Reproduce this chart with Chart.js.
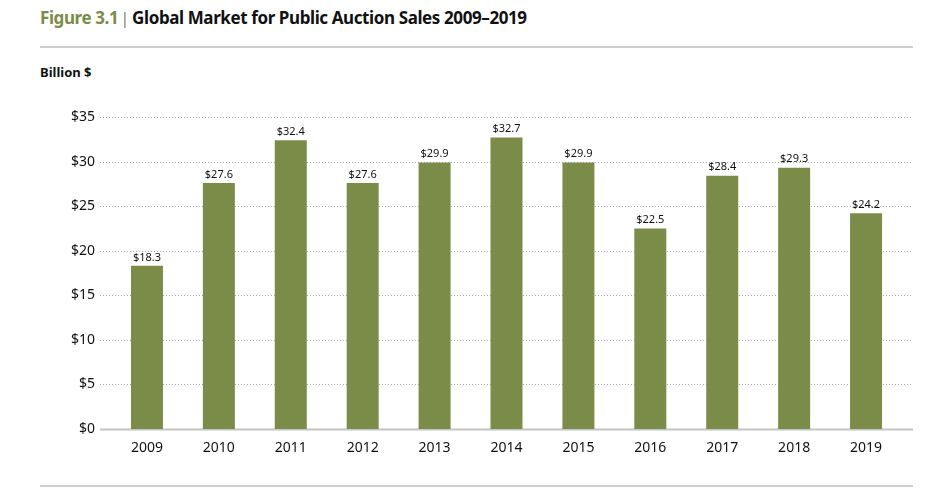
<!DOCTYPE html>
<html><head><meta charset="utf-8">
<script src="https://cdn.jsdelivr.net/npm/chart.js@4"></script>
<style>
html,body{margin:0;padding:0;background:#fff;}
#wrap{position:relative;width:934px;height:502px;font-family:"Noto Sans",sans-serif;}
#title{position:absolute;left:40px;top:6px;font-size:17px;font-weight:700;color:#111;white-space:nowrap;letter-spacing:-0.4px;}
#title .fig{color:#7b8c48;}
#title .bar{color:#444;font-weight:300;margin:0 3px 0 2px;}
#rule1{position:absolute;left:40px;top:46px;width:873px;height:2px;background:#cfcfcf;}
#rule2{position:absolute;left:40px;top:485px;width:873px;height:2px;background:#cfcfcf;}
#unit{position:absolute;left:40px;top:63px;font-size:13px;font-weight:700;color:#111;}
canvas{position:absolute;left:0;top:0;}
</style></head>
<body><div id="wrap">
<div id="title"><span class="fig">Figure 3.1</span><span class="bar">|</span>Global Market for Public Auction Sales 2009–2019</div>
<div id="rule1"></div>
<div id="unit">Billion $</div>
<canvas id="c" width="934" height="502"></canvas>
<div id="rule2"></div>
</div>
<script>
const years = ["2009","2010","2011","2012","2013","2014","2015","2016","2017","2018","2019"];
const sales = [18.3, 27.6, 32.4, 27.6, 29.9, 32.7, 29.9, 22.5, 28.4, 29.3, 24.2];
const yTicks = [0, 5, 10, 15, 20, 25, 30, 35];

const gridPlugin = {
  id: 'gridExt',
  beforeDatasetsDraw(chart) {
    const ctx = chart.ctx, y = chart.scales.y;
    ctx.save();
    yTicks.forEach(v => {
      const py = Math.round(y.getPixelForValue(v)) + 0.5;
      ctx.beginPath();
      if (v === 0) {
        ctx.setLineDash([]); ctx.strokeStyle = '#c4c4c4'; ctx.lineWidth = 2;
      } else {
        ctx.setLineDash([1, 2]); ctx.strokeStyle = '#a8a8a8'; ctx.lineWidth = 1;
      }
      ctx.moveTo(100, py); ctx.lineTo(913, py); ctx.stroke();
    });
    ctx.restore();
  }
};
const labelPlugin = {
  id: 'vals',
  afterDatasetsDraw(chart) {
    const ctx = chart.ctx, meta = chart.getDatasetMeta(0);
    ctx.save();
    ctx.font = '11px "Noto Sans", sans-serif';
    ctx.fillStyle = '#111';
    ctx.textAlign = 'center'; ctx.textBaseline = 'bottom';
    meta.data.forEach((el, i) => {
      ctx.fillText('$' + sales[i].toFixed(1), el.x, el.y - 3);
    });
    ctx.restore();
  }
};

new Chart(document.getElementById('c'), {
  type: 'bar',
  data: { labels: years, datasets: [{ data: sales, backgroundColor: '#7b8c48', barPercentage: 0.445, categoryPercentage: 1 }] },
  options: {
    responsive: false, animation: false,
    layout: { padding: { left: 0, right: 32, top: 117, bottom: 0 } },
    plugins: { legend: { display: false }, tooltip: { enabled: false } },
    scales: {
      x: {
        grid: { display: false, drawTicks: false },
        border: { display: false },
        ticks: { padding: 11, color: '#111', font: { family: 'Noto Sans', size: 14 } },
        afterFit: s => { s.height = 73; }
      },
      y: {
        min: 0, max: 35,
        afterBuildTicks: s => { s.ticks = yTicks.map(v => ({ value: v })); },
        grid: { display: false, drawTicks: false },
        border: { display: false },
        ticks: { padding: 16, color: '#111', font: { family: 'Noto Sans', size: 14 }, callback: v => '$' + v },
        afterFit: s => { s.width = 111; }
      }
    }
  },
  plugins: [gridPlugin, labelPlugin]
});
</script>
</body></html>
